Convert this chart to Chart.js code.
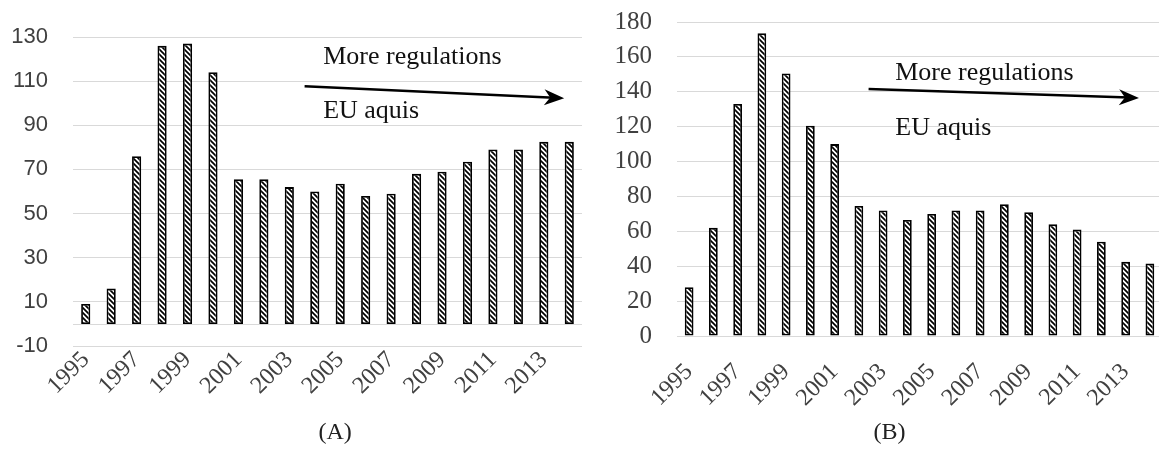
<!DOCTYPE html>
<html>
<head>
<meta charset="utf-8">
<script src="https://cdn.jsdelivr.net/npm/chart.js@4.4.1/dist/chart.umd.min.js"></script>
<style>
  html, body { margin: 0; padding: 0; background: #fff; overflow: hidden; width: 1159px; height: 451px; }
  canvas { position: absolute; top: 0; }
  #chartA { left: 0; }
  #chartB { left: 590px; }
</style>
</head>
<body>
<canvas id="chartA" width="585" height="451"></canvas>
<canvas id="chartB" width="578" height="451"></canvas>
<script>
const years = ['1995', '1996', '1997', '1998', '1999', '2000', '2001', '2002', '2003', '2004',
               '2005', '2006', '2007', '2008', '2009', '2010', '2011', '2012', '2013', '2014']
const valuesA = [9, 16, 76, 126, 127, 114, 65.5, 65.5, 62, 60, 63.5, 58, 59, 68, 69, 73.5, 79, 79, 82.5, 82.5]
const valuesB = [28, 62, 133, 173.5, 150.5, 120.5, 110, 74.5, 72, 66.5, 70, 72, 72, 75.5, 71, 64, 61, 54, 42.5, 41.5]
const ticksA = [-10, 10, 30, 50, 70, 90, 110, 130]
const ticksB = [0, 20, 40, 60, 80, 100, 120, 140, 160, 180]
const noteTop = 'More regulations'
const noteBottom = 'EU aquis'

// diagonal hatch fill like the Excel pattern
function hatchPattern() {
  const tile = document.createElement('canvas')
  tile.width = 5
  tile.height = 5
  const g = tile.getContext('2d')
  g.fillStyle = '#fff'
  g.fillRect(0, 0, 5, 5)
  g.strokeStyle = '#000'
  g.lineWidth = 1.7
  g.beginPath()
  g.moveTo(-1, -1); g.lineTo(6, 6)
  g.moveTo(-1, 4); g.lineTo(1, 6)
  g.moveTo(4, -1); g.lineTo(6, 1)
  g.stroke()
  return g.createPattern(tile, 'repeat')
}

// arrow, texts and panel letter, placed in data units through the scales
const notesPlugin = {
  id: 'notes',
  afterDraw(chart, args, opts) {
    const { ctx, chartArea, scales: { x, y } } = chart
    ctx.save()
    if (opts.zeroLine) {
      const y0 = Math.round(y.getPixelForValue(0)) + 0.5
      ctx.strokeStyle = '#d9d9d9'
      ctx.lineWidth = 1
      ctx.beginPath()
      ctx.moveTo(chartArea.left, y0)
      ctx.lineTo(chartArea.right, y0)
      ctx.stroke()
    }
    const x0 = x.getPixelForValue(opts.arrow[0]), y0 = y.getPixelForValue(opts.arrow[1])
    const x1 = x.getPixelForValue(opts.arrow[2]), y1 = y.getPixelForValue(opts.arrow[3])
    const ang = Math.atan2(y1 - y0, x1 - x0)
    ctx.strokeStyle = '#000'
    ctx.fillStyle = '#000'
    ctx.lineWidth = 2.5
    ctx.beginPath()
    ctx.moveTo(x0, y0)
    ctx.lineTo(x1 - 10 * Math.cos(ang), y1 - 10 * Math.sin(ang))
    ctx.stroke()
    ctx.translate(x1, y1)
    ctx.rotate(ang)
    ctx.beginPath()
    ctx.moveTo(0, 0)
    ctx.lineTo(-20, -8)
    ctx.lineTo(-14, 0)
    ctx.lineTo(-20, 8)
    ctx.closePath()
    ctx.fill()
    ctx.setTransform(1, 0, 0, 1, 0, 0)

    ctx.font = '26px "Liberation Serif"'
    ctx.textBaseline = 'middle'
    ctx.textAlign = 'left'
    ctx.fillStyle = '#111'
    ctx.fillText(noteTop, x.getPixelForValue(opts.text[0]), y.getPixelForValue(opts.text[1]))
    ctx.fillText(noteBottom, x.getPixelForValue(opts.text[0]), y.getPixelForValue(opts.text[2]))

    ctx.font = '24px "Liberation Serif"'
    ctx.textAlign = 'center'
    ctx.fillStyle = '#222'
    ctx.fillText(opts.letter[0], x.getPixelForValue(opts.letter[1]), y.getPixelForValue(opts.letter[2]))
    ctx.restore()
  }
}

function makeChart(id, values, ticks, opt) {
  return new Chart(document.getElementById(id), {
    type: 'bar',
    data: {
      labels: years,
      datasets: [{
        data: values,
        backgroundColor: hatchPattern(),
        borderColor: '#000',
        borderWidth: 1.8,
        borderSkipped: false,
        barPercentage: 0.36,
        categoryPercentage: 1
      }]
    },
    options: {
      responsive: false,
      animation: false,
      devicePixelRatio: 1,
      layout: { padding: opt.padding },
      plugins: {
        legend: { display: false },
        tooltip: { enabled: false },
        notes: opt.notes
      },
      scales: {
        x: {
          grid: { display: false, drawTicks: false },
          border: { display: false },
          ticks: {
            autoSkip: false,
            minRotation: 45,
            maxRotation: 45,
            padding: opt.xPad,
            color: '#404040',
            font: { family: 'Liberation Serif', size: 24 },
            callback: (v, i) => (i % 2 === 0 ? years[i] : null)
          },
          afterFit: s => { s.height = opt.xHeight }
        },
        y: {
          min: ticks[0],
          max: ticks[ticks.length - 1],
          afterBuildTicks: s => { s.ticks = ticks.map(v => ({ value: v })) },
          grid: { color: '#d9d9d9', lineWidth: 1, drawTicks: true, tickLength: 25, tickColor: 'rgba(0,0,0,0)' },
          border: { display: false },
          ticks: {
            autoSkip: false,
            padding: 0,
            color: '#404040',
            font: opt.yFont
          },
          afterFit: s => { s.width = opt.yWidth }
        }
      }
    },
    plugins: [notesPlugin]
  })
}

makeChart('chartA', valuesA, ticksA, {
  padding: { top: 37, right: 3, left: 0, bottom: 0 },
  xHeight: 105,
  xPad: 0,
  yWidth: 73,
  yFont: { family: 'Liberation Sans', size: 22 },
  notes: {
    zeroLine: true,
    arrow: [8.6, 107.7, 18.8, 102.3],
    text: [9.33, 121, 96.4],
    letter: ['(A)', 9.8, -49.5]
  }
})

makeChart('chartB', valuesB, ticksB, {
  padding: { top: 22, right: 0, left: 0, bottom: 0 },
  xHeight: 115,
  xPad: 22,
  yWidth: 87,
  yFont: { family: 'Liberation Serif', size: 25 },
  notes: {
    zeroLine: false,
    arrow: [7.4, 141.6, 18.55, 136.5],
    text: [8.5, 150.8, 119.3],
    letter: ['(B)', 8.26, -55.6]
  }
})
</script>
</body>
</html>
